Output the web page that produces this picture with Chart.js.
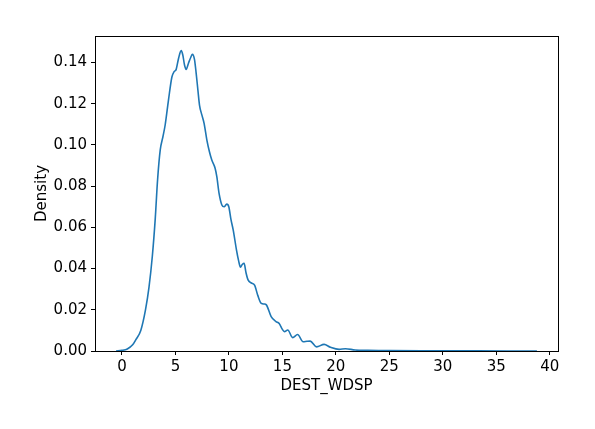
<!DOCTYPE html>
<html>
<head>
<meta charset="utf-8">
<script src="https://cdn.jsdelivr.net/npm/chart.js@4.4.0/dist/chart.umd.min.js"></script>
<style>
html,body{margin:0;padding:0;background:#fff;}
#c{display:block;}
</style>
</head>
<body>
<canvas id="c" width="595" height="429" style="width:595px;height:429px"></canvas>
<script>
// Data
const windSpeed = [-0.55, 0.0, 0.5, 1.0, 1.3, 1.76, 2.2, 2.53, 2.84, 3.11, 3.33, 3.58, 3.83, 4.04, 4.35, 4.67, 4.88, 5.07, 5.29, 5.54, 5.69, 5.85, 6.0, 6.22, 6.44, 6.59, 6.78, 6.94, 7.1, 7.25, 7.47, 7.68, 7.94, 8.18, 8.4, 8.71, 8.87, 9.08, 9.34, 9.55, 9.8, 9.99, 10.2, 10.4, 10.71, 10.9, 11.08, 11.25, 11.42, 11.6, 11.79, 12.1, 12.4, 12.7, 13.03, 13.3, 13.5, 13.95, 14.4, 14.7, 15.0, 15.19, 15.5, 15.96, 16.42, 16.94, 17.3, 17.6, 18.2, 18.9, 19.5, 20.3, 20.9, 21.8, 23, 25, 28, 32, 36, 38.8];
const density = [0.0, 0.0003, 0.001, 0.003, 0.0055, 0.010, 0.020, 0.031, 0.046, 0.064, 0.083, 0.0976, 0.104, 0.1097, 0.1218, 0.133, 0.1356, 0.1367, 0.142, 0.1458, 0.1437, 0.1388, 0.1367, 0.1397, 0.1426, 0.144, 0.1416, 0.1348, 0.1267, 0.1194, 0.1146, 0.1105, 0.1024, 0.0967, 0.0927, 0.0887, 0.0846, 0.0765, 0.0709, 0.070, 0.0713, 0.070, 0.0636, 0.0588, 0.049, 0.044, 0.0407, 0.042, 0.0426, 0.038, 0.0345, 0.033, 0.032, 0.027, 0.0231, 0.0228, 0.0224, 0.0167, 0.0143, 0.0134, 0.0105, 0.0094, 0.0102, 0.0065, 0.008, 0.0045, 0.0047, 0.0048, 0.002, 0.0032, 0.0018, 0.0008, 0.0011, 0.0005, 0.0003, 0.0002, 0.0001, 0.00005, 0.00003, 0.00002];
const xTicks = [0, 5, 10, 15, 20, 25, 30, 35, 40];
const yTicks = [0, 0.02, 0.04, 0.06, 0.08, 0.10, 0.12, 0.14];
const xLabel = 'DEST_WDSP';
const yLabel = 'Density';

const points = windSpeed.map((x, i) => ({x: x, y: density[i]}));

const FONT = 'DejaVu Sans';

const frame = {
  id: 'frame',
  afterDraw(chart) {
    const a = chart.chartArea;
    const ctx = chart.ctx;
    ctx.save();
    ctx.strokeStyle = '#000';
    ctx.lineWidth = 1;
    ctx.strokeRect(Math.round(a.left) + 0.5, Math.round(a.top) + 0.5, Math.round(a.right - a.left), Math.round(a.bottom - a.top));
    ctx.restore();
  }
};

new Chart(document.getElementById('c'), {
  type: 'line',
  data: {
    datasets: [{
      data: points,
      borderColor: '#1f77b4',
      borderWidth: 1.6,
      pointRadius: 0,
      fill: false,
      cubicInterpolationMode: 'monotone'
    }]
  },
  options: {
    responsive: false,
    animation: false,
    layout: {padding: {left: 0, right: 37, top: 36, bottom: 0}},
    plugins: {legend: {display: false}, tooltip: {enabled: false}},
    scales: {
      x: {
        type: 'linear',
        min: -2.52,
        max: 40.77,
        afterBuildTicks: s => { s.ticks = xTicks.map(v => ({value: v})); },
        afterFit: s => { s.height = 78; },
        grid: {drawOnChartArea: false, drawTicks: true, tickLength: 4, color: '#000'},
        border: {display: false},
        ticks: {color: '#000', font: {family: FONT, size: 15}, padding: 3, maxRotation: 0, callback: v => String(v)},
        title: {display: true, text: xLabel, color: '#000', font: {family: FONT, size: 15}, padding: {top: 0, bottom: 34}}
      },
      y: {
        type: 'linear',
        min: 0,
        max: 0.1529,
        afterBuildTicks: s => { s.ticks = yTicks.map(v => ({value: v})); },
        afterFit: s => { s.width = 95; },
        grid: {drawOnChartArea: false, drawTicks: true, tickLength: 4, color: '#000'},
        border: {display: false},
        ticks: {color: '#000', font: {family: FONT, size: 15}, padding: 4, callback: v => Number(v).toFixed(2)},
        title: {display: true, text: yLabel, color: '#000', font: {family: FONT, size: 15}, padding: {top: 33, bottom: 0}}
      }
    }
  },
  plugins: [frame]
});
</script>
</body>
</html>
